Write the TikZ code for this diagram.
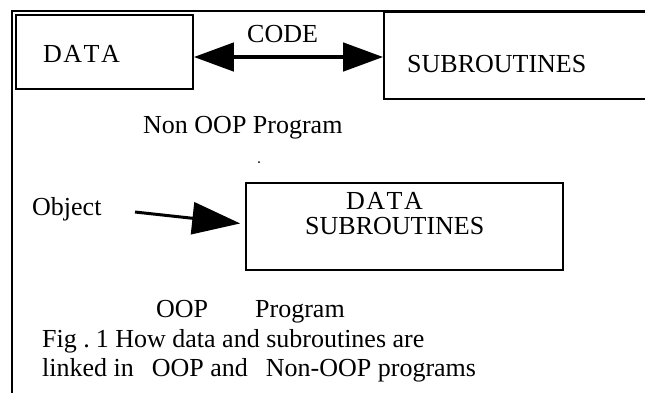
\documentclass[tikz,border=0pt]{standalone}
\usepackage{fontspec}
\setmainfont{Liberation Serif}
\usetikzlibrary{arrows.meta,calc}
\tikzset{
  boxshape/.style={draw, line width=1.6pt, rectangle, inner sep=0pt},
  txt/.style={inner sep=0pt, font=\fontsize{26}{28}\selectfont},
  biarrow/.style={line width=4.5pt, {Triangle[length=40pt,width=28pt]}-{Triangle[length=40pt,width=28pt]}},
  objarrow/.style={line width=3pt, -{Triangle[length=48pt,width=32pt]}, shorten >=5pt},
  frameline/.style={line width=1.6pt}
}
\newcommand{\spdata}{D\hspace{1.5pt}A\hspace{1.5pt}T\hspace{1.5pt}A}
\begin{document}
\begin{tikzpicture}[x=1pt,y=-1pt]
\useasboundingbox (0,0) rectangle (645,392);
\clip (0,0) rectangle (645,392);
% outer frame
\coordinate (ftl) at (12,11);
\coordinate (ftr) at (660,11);
\coordinate (fbl) at (12,400);
\draw[frameline] (fbl) -- (ftl) -- (ftr);
% top boxes
\node[boxshape, minimum width=177pt, minimum height=74pt] (data) at (104.5,52) {};
\node[boxshape, minimum width=276pt, minimum height=87pt] (sub) at (522,55.5) {};
\node[txt, anchor=base west] (datatxt) at (43,62) {\spdata};
\node[txt, anchor=base west] (subtxt) at (407,72) {SUBROUTINES};
\node[txt, anchor=base west] (code) at (247,42) {CODE};
\coordinate (ay) at (0,57);
\draw[biarrow] (data.east |- ay) -- (sub.west |- ay);
\node[txt, anchor=base west] (nonoop) at (143,133) {Non OOP Program};
\fill (259,162) circle (1pt);
% lower part
\node[boxshape, minimum width=317pt, minimum height=87pt] (obox) at (404.5,226.5) {};
\node[txt, anchor=base east] (odata) at (423,209) {\spdata};
\node[txt, anchor=base west] (osub) at (305,234) {SUBROUTINES};
\node[txt, anchor=base west] (object) at (32,215) {Object};
\coordinate (os) at (135,212);
\draw[objarrow] (os) -- (obox.west |- 0,224);
\node[txt, anchor=base west] (oop) at (156,317) {OOP};
\node[txt, anchor=base west] (prog) at (255,317) {Program};
\node[txt, anchor=base west] (fig1) at (42,347) {Fig .\hspace{6pt}1 How data and subroutines are};
\node[txt, anchor=base west] (fig2) at (42,376) {linked in\hspace{18pt}OOP and\hspace{18pt}Non-OOP programs};
\end{tikzpicture}
\end{document}
